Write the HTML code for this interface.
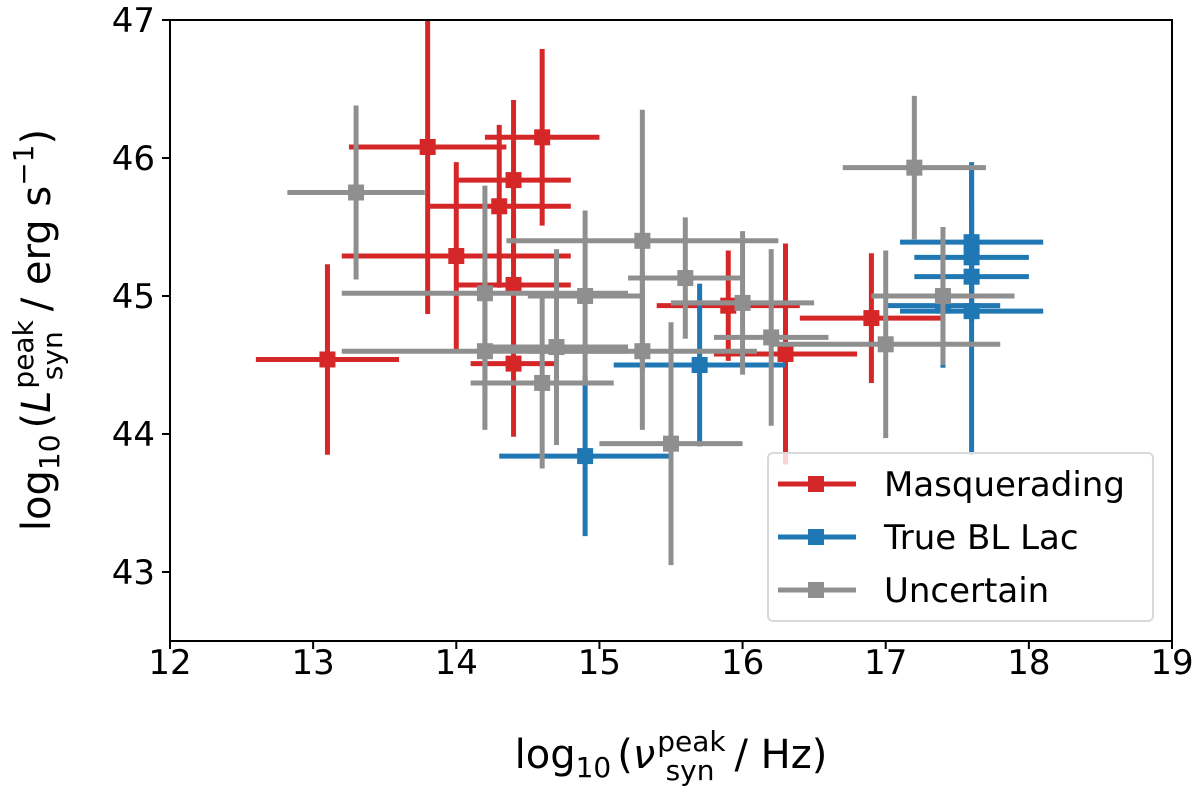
<!DOCTYPE html>
<html><head><meta charset="utf-8"><style>
body{margin:0;background:#fff;}
svg{display:block;font-family:"DejaVu Sans","Liberation Sans",sans-serif;}
</style></head><body>
<svg id="chart" width="1200" height="792" viewBox="0 0 1200 792">
<rect x="0" y="0" width="1200" height="792" fill="#fff"/>
<g id="plot"></g>
<g id="axes"></g>
<text x="671" y="768" font-size="40" text-anchor="middle">log<tspan font-size="28" dy="9">10</tspan><tspan dy="-9" dx="6">(</tspan><tspan font-style="italic">ν</tspan><tspan font-size="28" dy="-17" dx="2">peak</tspan><tspan font-size="28" dx="-60" dy="29">syn</tspan><tspan dy="-12" dx="20">/ Hz)</tspan></text>
<text transform="translate(50,330) rotate(-90)" font-size="40" text-anchor="middle">log<tspan font-size="28" dy="9">10</tspan><tspan dy="-9" dx="6">(</tspan><tspan font-style="italic">L</tspan><tspan font-size="28" dy="-17" dx="2">peak</tspan><tspan font-size="28" dx="-60" dy="29">syn</tspan><tspan dy="-12" dx="20">/ erg s</tspan><tspan font-size="28" dy="-17">−1</tspan><tspan dy="17">)</tspan></text>
<g id="legend"></g>
</svg>
<script>
const xTicks=[12,13,14,15,16,17,18,19];
const yTicks=[43,44,45,46,47];
// Masquerading
const mX=[13.1,13.8,14.0,14.3,14.4,14.6,14.4,14.4,15.9,16.3,16.9];
const mY=[44.54,46.08,45.29,45.65,45.84,46.15,45.08,44.51,44.93,44.58,44.84];
const mXe=[0.5,0.55,0.8,0.5,0.4,0.4,0.4,0.3,0.5,0.5,0.5];
const mYe=[0.69,1.21,0.68,0.59,0.58,0.64,0.5,0.53,0.4,0.8,0.47];
// True BL Lac
const bX=[14.9,15.7,17.4,17.6,17.6,17.6,17.6];
const bY=[43.84,44.5,44.93,45.39,45.28,45.14,44.89];
const bXe=[0.6,0.6,0.4,0.5,0.4,0.4,0.5];
const bYe=[0.58,0.59,0.45,0.58,0.4,0.3,1.04];
// Uncertain
const gX=[13.3,14.2,14.2,14.6,14.7,14.9,15.3,15.3,15.5,15.6,16.0,16.2,17.0,17.4,17.2];
const gY=[45.75,45.02,44.6,44.37,44.63,45.0,45.4,44.6,43.93,45.13,44.95,44.7,44.65,45.0,45.93];
const gXe=[0.48,1.0,1.0,0.5,0.5,0.4,0.95,0.8,0.5,0.4,0.5,0.4,0.8,0.5,0.5];
const gYe=[0.63,0.78,0.57,0.62,0.71,0.62,0.95,0.57,0.88,0.44,0.52,0.64,0.68,0.5,0.52];

const X0=170,X1=1172,Y0=20,Y1=641;
const sx=v=>X0+(v-12)*(X1-X0)/7;
const sy=v=>Y0+(47-v)*138;
const NS="http://www.w3.org/2000/svg";
function mk(tag,attrs,parent){const e=document.createElementNS(NS,tag);for(const k in attrs)e.setAttribute(k,attrs[k]);parent.appendChild(e);return e;}
const plot=document.getElementById('plot');
const clip=mk('clipPath',{id:'cp'},document.getElementById('chart'));
mk('rect',{x:X0,y:Y0,width:X1-X0,height:Y1-Y0},clip);
plot.setAttribute('clip-path','url(#cp)');
function series(xs,ys,xe,ye,col,name){
  const g=mk('g',{},plot);
  
  
  for(let i=0;i<xs.length;i++){
    const p=mk('g',{},g);
    
    
    const cx=sx(xs[i]),cy=sy(ys[i]);
    mk('line',{x1:sx(xs[i]-xe[i]),x2:sx(xs[i]+xe[i]),y1:cy,y2:cy,stroke:col,'stroke-width':5},p);
    mk('line',{x1:cx,x2:cx,y1:sy(ys[i]-ye[i]),y2:sy(ys[i]+ye[i]),stroke:col,'stroke-width':5},p);
    mk('rect',{x:cx-8,y:cy-8,width:16,height:16,fill:col},p);
  }
}
series(mX,mY,mXe,mYe,'#d62728','masquerading');
series(bX,bY,bXe,bYe,'#1f77b4','true-bl-lac');
series(gX,gY,gXe,gYe,'#8f8f8f','uncertain');
const ax=document.getElementById('axes');
mk('rect',{x:X0,y:Y0,width:X1-X0,height:Y1-Y0,fill:'none',stroke:'#000','stroke-width':2},ax);
xTicks.forEach(t=>{
  mk('line',{x1:sx(t),x2:sx(t),y1:Y1,y2:Y1+8,stroke:'#000','stroke-width':2},ax);
  const tx=mk('text',{x:sx(t),y:Y1+33,'font-size':34,'text-anchor':'middle'},ax);
  
  
  tx.textContent=t;
});
yTicks.forEach(t=>{
  mk('line',{x1:X0-8,x2:X0,y1:sy(t),y2:sy(t),stroke:'#000','stroke-width':2},ax);
  const tx=mk('text',{x:X0-15,y:sy(t)+12,'font-size':34,'text-anchor':'end'},ax);
  
  
  tx.textContent=t;
});
const lg=document.getElementById('legend');
mk('rect',{x:768,y:453,width:385,height:168,rx:5,fill:'#fff','fill-opacity':0.8,stroke:'#d9d9d9','stroke-width':2},lg);
[['Masquerading','#d62728',484],['True BL Lac','#1f77b4',537],['Uncertain','#8f8f8f',590]].forEach(([lab,col,y])=>{
  const e=mk('g',{},lg);
  
  
  mk('line',{x1:778,x2:856,y1:y,y2:y,stroke:col,'stroke-width':5},e);
  mk('rect',{x:808,y:y-8,width:16,height:16,fill:col},e);
  const t=mk('text',{x:884,y:y+12,'font-size':34},e);
  t.textContent=lab;
});
</script>
</body></html>
